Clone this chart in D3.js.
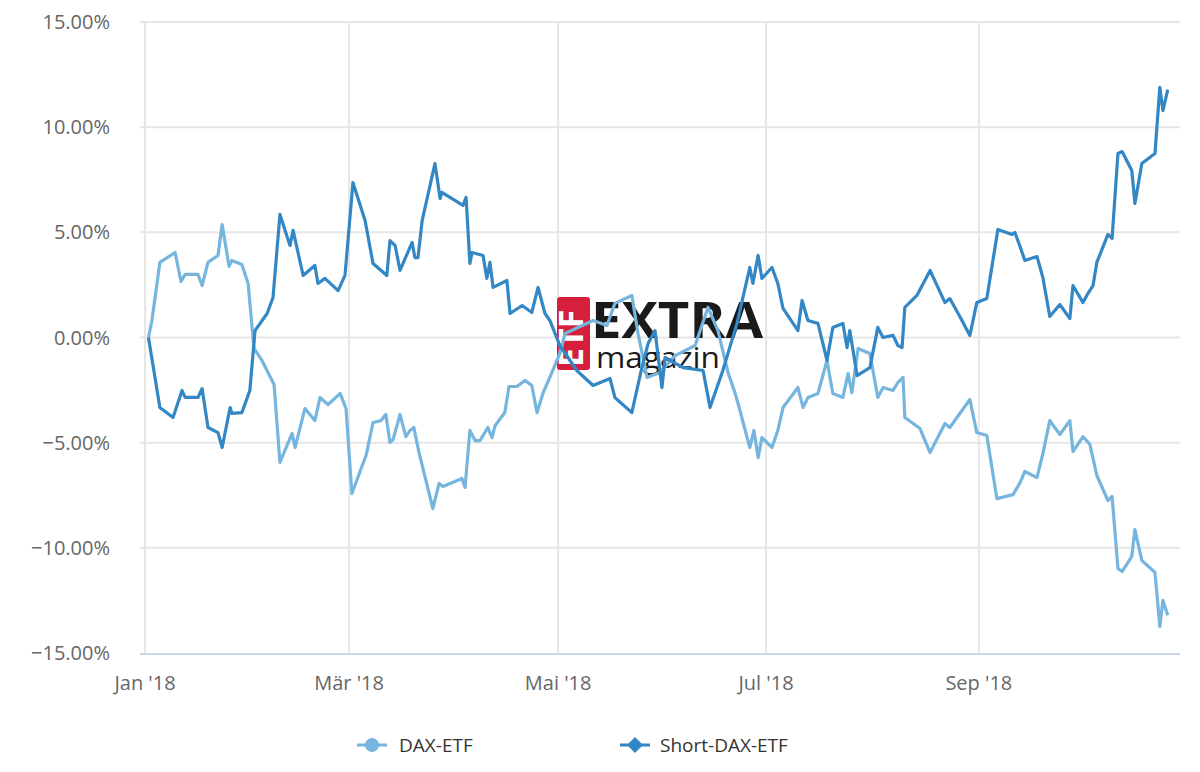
<!DOCTYPE html>
<html>
<head>
<meta charset="utf-8">
<script src="https://cdn.jsdelivr.net/npm/d3@7"></script>
<style>
  body { margin: 0; background: #fff; }
  text { font-family: "Open Sans", "DejaVu Sans", sans-serif; }
</style>
</head>
<body>
<svg id="chart"></svg>
<script>
// day = days since 1 Jan 2018, value in %
const daxDays = [1,2,4.3,8.7,10.4,11.6,15.3,16.5,18.2,21.1,22.3,24.3,25.1,28,29.8,31.5,33.8,37.3,39,42.5,43.4,46.2,49.1,50.6,52.9,56.4,58.1,59.8,63,63.9,65.9,68.2,69.6,70.8,71.7,73.7,75.4,76.6,77.7,79.2,83.2,85,86.1,91.6,92.5,93.9,95.4,96.8,99.1,100.3,101.2,104,105.2,107.5,109.8,111.8,113.3,115,117,119.9,121.4,129.5,133.5,135.8,140.7,142.5,145.1,148.8,153.2,159,162.7,165.6,168.5,170.5,171.4,174.8,176,177.2,178.3,181.2,182.9,184.4,188.7,190.2,191.6,194.5,197.1,198.8,201.7,203.2,204.3,206.1,209.5,211.8,213.3,216.2,217.6,219.1,219.6,224,226.9,231.2,232.6,238.4,240.4,243.3,246.2,250.9,252.9,254.3,257.8,259.5,261.5,264.4,267.3,268.2,271.1,273.1,275.1,278.3,279.5,281.2,282.4,285.2,286.1,288.1,291.9,293.3,294.2,295.6];
const daxValues = [0,0.81,3.57,4.04,2.66,3.0,3.0,2.47,3.57,3.9,5.37,3.38,3.66,3.47,2.57,-0.52,-1.09,-2.23,-5.94,-4.56,-5.23,-3.38,-3.95,-2.85,-3.19,-2.66,-3.38,-7.42,-5.99,-5.61,-4.04,-3.95,-3.66,-4.99,-4.85,-3.66,-4.71,-4.42,-4.28,-5.47,-8.13,-6.94,-7.08,-6.7,-7.13,-4.42,-4.9,-4.9,-4.28,-4.76,-4.18,-3.57,-2.33,-2.33,-2.04,-2.28,-3.57,-2.66,-1.9,-0.76,0.19,0.81,0.57,1.62,2.0,0.19,-1.9,-1.66,-0.86,-0.38,1.43,0.33,-1.66,-2.62,-3.14,-5.23,-4.42,-5.71,-4.76,-5.23,-4.42,-3.33,-2.38,-3.33,-2.85,-2.66,-1.09,-2.66,-2.85,-1.71,-2.62,-0.52,-0.76,-2.85,-2.38,-2.52,-2.14,-1.9,-3.8,-4.33,-5.47,-4.09,-4.28,-2.95,-4.52,-4.66,-7.66,-7.47,-6.9,-6.37,-6.66,-5.52,-3.95,-4.61,-3.95,-5.42,-4.71,-5.09,-6.56,-7.75,-7.56,-10.98,-11.13,-10.41,-9.13,-10.6,-11.17,-13.74,-12.5,-13.2];

const shortDays = [1,4.3,8.1,10.7,11.6,15.3,16.5,18.2,21.1,22.3,24.6,25.1,28,30.3,31.8,35.3,37,39,41.9,42.8,45.7,49.1,50,52,55.8,57.8,60.1,63.6,65.9,69.9,70.8,72.3,73.7,77.2,78,78.9,80.1,83.8,85.3,85.8,91.9,92.8,93.9,94.5,97.7,98.8,99.7,100.6,104.6,105.5,109,111.8,113.6,115.6,117,119.9,124.8,129.5,134.4,135.8,140.7,143.6,145.4,147.4,149.4,150.3,155.5,161.3,163.3,167,171.1,174.8,175.7,177.2,178.3,181.2,182.9,184.4,188.7,189.9,191.6,194.5,197.1,198.8,201.7,202.9,203.7,205.8,209.5,211.8,213.3,216.2,217.6,218.8,219.6,223.1,226.9,231.2,232.6,235.5,238.4,240.4,243.3,246.5,250.6,251.4,252.9,254.3,257.8,259.5,261.5,264.4,267.3,268.2,271.1,272.5,274,275.1,278.3,279.5,281.2,282.4,285.2,286.1,288.1,291.9,293.3,294.2,295.6];
const shortValues = [0,-3.33,-3.8,-2.52,-2.85,-2.85,-2.43,-4.28,-4.52,-5.23,-3.33,-3.61,-3.57,-2.52,0.33,1.14,1.9,5.85,4.37,5.09,2.95,3.42,2.57,2.81,2.23,2.95,7.37,5.56,3.52,2.95,4.61,4.37,3.19,4.52,3.8,3.8,5.56,8.27,6.61,6.9,6.28,6.66,3.52,4.04,3.9,2.81,3.57,2.38,2.71,1.14,1.52,1.19,2.38,1.14,0.81,-0.38,-1.57,-2.28,-1.95,-2.85,-3.57,-1.43,-0.29,0.33,-2.38,-0.95,-1.43,-1.57,-3.33,-1.57,0.67,3.33,2.57,3.9,2.81,3.33,2.57,1.38,0.33,1.76,0.81,0.67,-1.09,0.48,0.67,-0.48,0.33,-1.81,-1.43,0.48,0,0.1,-0.38,-0.48,1.43,2.0,3.19,1.66,1.85,1.0,0.1,1.66,1.85,5.14,4.9,4.99,4.33,3.66,3.85,2.85,1.0,1.57,0.9,2.47,1.66,2.09,2.47,3.57,4.9,4.71,8.75,8.84,7.94,6.37,8.27,8.75,11.89,10.79,11.79];

const yTicks = [15, 10, 5, 0, -5, -10, -15];
const monthTicks = [0, 59, 119.4, 179.5, 241];
const monthLabels = ["Jan '18", "Mär '18", "Mai '18", "Jul '18", "Sep '18"];
const seriesNames = ["DAX-ETF", "Short-DAX-ETF"];
const seriesColors = ["#76b5dd", "#3287c4"];

const svg = d3.select("#chart").attr("width", 1200).attr("height", 772);

const x = d3.scaleLinear().domain([0, 300]).range([145, 145 + 300 * 3.46]);
const y = d3.scaleLinear().domain([-15, 15]).range([653, 22]);
const plotRight = 1180;

// grid
svg.append("g").selectAll("line").data(yTicks.filter(d => d !== -15)).join("line")
    .attr("x1", 140).attr("x2", plotRight)
    .attr("y1", d => y(d)).attr("y2", d => y(d))
    .attr("stroke", "#e6e6e6").attr("stroke-width", 2);
svg.append("g").selectAll("line").data(monthTicks).join("line")
    .attr("x1", d => x(d)).attr("x2", d => x(d))
    .attr("y1", 22).attr("y2", 653)
    .attr("stroke", "#e6e6e6").attr("stroke-width", 2);
svg.append("line").attr("x1", 140).attr("x2", plotRight).attr("y1", 654).attr("y2", 654)
    .attr("stroke", "#ccd6eb").attr("stroke-width", 2);

svg.append("g").selectAll("text").data(yTicks).join("text")
    .attr("x", 110).attr("y", d => y(d) + 7)
    .attr("text-anchor", "end").attr("font-size", 20).attr("fill", "#666")
    .text(d => d3.format(".2f")(d) + "%");
svg.append("g").selectAll("text").data(monthTicks).join("text")
    .attr("x", d => x(d)).attr("y", 690)
    .attr("text-anchor", "middle").attr("font-size", 20).attr("fill", "#666")
    .text((d, i) => monthLabels[i]);

// watermark logo
const logo = svg.append("g");
logo.append("rect").attr("x", 557).attr("y", 297).attr("width", 33).attr("height", 73).attr("rx", 3).attr("fill", "#d61f3c");
logo.append("text").attr("transform", "translate(583,367) rotate(-90)")
    .attr("font-size", 34).attr("font-weight", "bold").attr("fill", "#fff").text("ETF");
logo.append("text").attr("x", 591).attr("y", 338).attr("font-size", 50).attr("font-weight", "bold")
    .attr("fill", "#1a1a1a").attr("textLength", 172).attr("lengthAdjust", "spacingAndGlyphs").text("EXTRA");
logo.append("text").attr("x", 596).attr("y", 368).attr("font-size", 29)
    .attr("fill", "#1a1a1a").attr("textLength", 124).attr("lengthAdjust", "spacingAndGlyphs").text("magazin");

const line = d3.line().x(d => x(d[0])).y(d => y(d[1]));
const dax = daxDays.map((d, i) => [d, daxValues[i]]);
const shortDax = shortDays.map((d, i) => [d, shortValues[i]]);
[dax, shortDax].forEach((s, i) => {
  svg.append("path").datum(s).attr("d", line)
      .attr("fill", "none").attr("stroke", seriesColors[i]).attr("stroke-width", 3.2)
      .attr("stroke-linejoin", "round");
});

// legend
const legendX = [357, 620];
const lg = svg.append("g");
seriesNames.forEach((n, i) => {
  const g = lg.append("g").attr("transform", `translate(${legendX[i]},745)`);
  g.append("line").attr("x1", 0).attr("x2", 30).attr("stroke", seriesColors[i]).attr("stroke-width", 3);
  if (i === 0) g.append("circle").attr("cx", 15).attr("r", 7).attr("fill", seriesColors[i]);
  else g.append("path").attr("d", "M15,-8L23,0L15,8L7,0Z").attr("fill", seriesColors[i]);
  g.append("text").attr("x", i === 0 ? 42 : 40).attr("y", 7).attr("font-size", 19).attr("fill", "#333").text(n);
});
</script>
</body>
</html>
